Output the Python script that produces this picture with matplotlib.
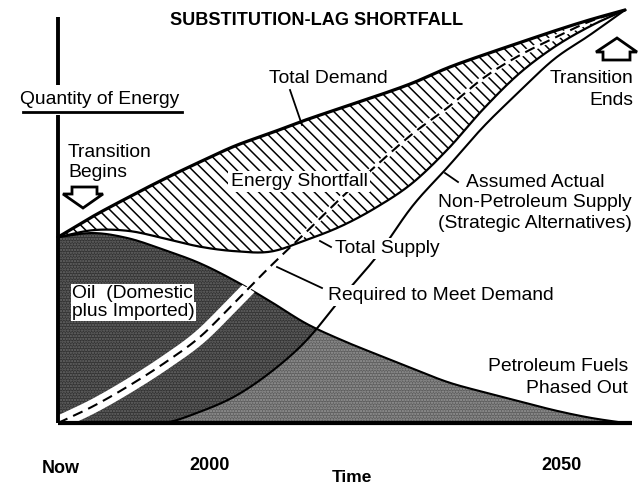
import numpy as np
import matplotlib
matplotlib.use('Agg')
import matplotlib.pyplot as plt
from matplotlib.path import Path
from matplotlib.patches import Polygon
from matplotlib.lines import Line2D

plt.rcParams['font.family'] = ['Liberation Sans', 'DejaVu Sans']
plt.rcParams['hatch.linewidth'] = 1.1

W, H = 643, 486

# ---- data (time in years, quantity of energy in relative units) ----
years = [1980, 1985, 1990, 1995, 2000, 2005, 2010, 2015, 2020, 2025,
         2030, 2035, 2040, 2045, 2050, 2055, 2060]
total_demand = [45.0, 50.1, 54.7, 59.1, 63.2, 67.1, 70.2, 73.4, 76.3, 79.2,
                82.3, 86.0, 89.1, 92.0, 94.9, 97.6, 100.0]
total_supply = [45.0, 46.7, 46.5, 44.7, 42.7, 41.6, 41.5, 44.3, 47.7, 52.3,
                58.1, 66.3, 76.0, 84.5, 91.0, 96.0, 100.0]
oil_supply = [45.0, 46.0, 44.7, 41.9, 38.7, 34.4, 29.4, 24.1, 20.1, 16.6,
              13.2, 9.9, 7.5, 5.3, 3.1, 1.3, 0.0]
required_alt = [0.0, 4.1, 9.0, 14.5, 20.8, 29.3, 38.0, 46.2, 54.6, 62.5,
                70.0, 76.4, 83.5, 88.9, 93.2, 97.2, 100.0]
actual_alt = [0.0, 0.0, 0.0, 0.0, 2.7, 6.5, 12.3, 19.9, 30.3, 40.4,
              52.5, 62.0, 71.7, 80.1, 88.1, 93.9, 100.0]

time_labels = ['Now', '2000', '2050']


def smooth(x, y, n=14):
    """Catmull-Rom rendering of the read points."""
    x = np.asarray(x, float)
    y = np.asarray(y, float)
    yp = np.concatenate([[2 * y[0] - y[1]], y, [2 * y[-1] - y[-2]]])
    xs, ys = [], []
    t = np.linspace(0, 1, n, endpoint=False)
    for i in range(len(x) - 1):
        p0, p1, p2, p3 = yp[i], yp[i + 1], yp[i + 2], yp[i + 3]
        yy = 0.5 * (2 * p1 + (-p0 + p2) * t + (2 * p0 - 5 * p1 + 4 * p2 - p3) * t ** 2
                    + (-p0 + 3 * p1 - 3 * p2 + p3) * t ** 3)
        xs.append(x[i] + t * (x[i + 1] - x[i]))
        ys.append(yy)
    xs.append([x[-1]])
    ys.append([y[-1]])
    return np.concatenate(xs), np.concatenate(ys)


fig = plt.figure(figsize=(W / 100, H / 100), dpi=100)
ax = fig.add_axes([0, 0, 1, 1])
ax.set_xlim(1971.816, 2062.54)
ax.set_ylim(-15.254, 102.421)
ax.axis('off')

xd, dem = smooth(years, total_demand)
_, sup = smooth(years, total_supply)
_, oil = smooth(years, oil_supply)
oil = np.clip(oil, 0, None)
_, req = smooth(years, required_alt)
req = np.clip(req, 0, None)
_, act = smooth(years, actual_alt)
act = np.clip(act, 0, None)

# shortfall (hatched)
ax.fill_between(xd, sup, dem, facecolor='white', edgecolor='black',
                hatch='\\\\\\', linewidth=0, zorder=1)

# oil region (dark stipple) and region under actual alternatives (lighter)
ax.fill_between(xd, 0, oil, facecolor='#333333', edgecolor='#6a6a6a',
                hatch='......', linewidth=0, zorder=2)
ax.fill_between(xd, 0, np.minimum(act, oil), facecolor='#5e5e5e', edgecolor='#9a9a9a',
                hatch='......', linewidth=0, zorder=2.1)
ax.plot(xd, oil, color='black', lw=1.5, zorder=2.5)

# required (dashed) with white band
oil_path = Path(np.column_stack([np.r_[xd, xd[::-1]], np.r_[oil, np.zeros_like(xd)]]))
band, = ax.plot(xd, req, color='white', lw=10, zorder=3, solid_capstyle='butt')
band.set_clip_path(oil_path, ax.transData)
ax.plot(xd, req, color='white', lw=3.5, zorder=3)
ax.plot(xd, req, color='black', lw=1.5, dashes=(5, 3), zorder=4)

# demand, supply, actual
ax.plot(xd, dem, color='black', lw=2.3, zorder=4, solid_capstyle='round')
ax.plot(xd, sup, color='black', lw=1.6, zorder=4)
m = act > 0.05
ax.plot(xd[m], act[m], color='black', lw=1.5, zorder=4)

# axes lines
ax.plot([1980, 2061], [0, 0], color='black', lw=3, solid_capstyle='butt', zorder=5)
ax.plot([1980, 1980], [0, 74.6], color='black', lw=2.8, solid_capstyle='butt', zorder=5)
ax.plot([1980, 1980], [81.8, 98.3], color='black', lw=2.8, solid_capstyle='butt', zorder=5)


def T(px, py, s, **kw):
    kw.setdefault('fontsize', 13.9)
    kw.setdefault('va', 'baseline')
    fig.text(px / W, 1 - py / H, s, zorder=7, **kw)


def L(p1, p2, lw=1.3):
    fig.add_artist(Line2D([p1[0] / W, p2[0] / W], [1 - p1[1] / H, 1 - p2[1] / H],
                          color='black', lw=lw, transform=fig.transFigure, zorder=7))


def P(pts):
    fig.add_artist(Polygon([(x / W, 1 - y / H) for x, y in pts], closed=True,
                           facecolor='white', edgecolor='black', lw=2,
                           transform=fig.transFigure, zorder=7))


white = dict(facecolor='white', edgecolor='none', pad=1.5)

T(317, 25, 'SUBSTITUTION-LAG SHORTFALL', ha='center', fontweight='bold', fontsize=13.1)
T(20, 104, 'Quantity of Energy', ha='left')
L((23, 112), (182, 112), lw=2)
T(68, 157, 'Transition', ha='left')
T(68, 177, 'Begins', ha='left')
P([(72, 187), (97, 187), (97, 194), (103, 194), (83, 208), (63, 194), (72, 194)])
T(633, 83, 'Transition', ha='right')
T(633, 105, 'Ends', ha='right')
P([(617, 38), (637, 52), (630, 52), (630, 60), (603, 60), (603, 52), (596, 52)])
T(328, 83, 'Total Demand', ha='center')
L((290, 90), (302, 125))
T(299, 186, 'Energy Shortfall', ha='center', bbox=white)
T(335, 253, 'Total Supply', ha='left', bbox=white)
L((320, 241), (331, 247))
T(328, 300, 'Required to Meet Demand', ha='left', bbox=white)
L((277, 267), (322, 288))
T(535, 187, 'Assumed Actual', ha='center')
T(535, 207, 'Non-Petroleum Supply', ha='center')
T(535, 228, '(Strategic Alternatives)', ha='center')
L((445, 173), (458, 182))
T(72, 298, 'Oil  (Domestic', ha='left', bbox=dict(facecolor='white', edgecolor='none', pad=1))
T(72, 316, 'plus Imported)', ha='left', bbox=dict(facecolor='white', edgecolor='none', pad=1))
T(628, 371, 'Petroleum Fuels', ha='right')
T(628, 393, 'Phased Out', ha='right')
T(61, 473, time_labels[0], ha='center', fontweight='bold', fontsize=13)
T(210, 470, time_labels[1], ha='center', fontweight='bold', fontsize=13)
T(562, 470, time_labels[2], ha='center', fontweight='bold', fontsize=13)
T(352, 482, 'Time', ha='center', fontweight='bold', fontsize=12.5)

fig.savefig('out.png', dpi=100)
